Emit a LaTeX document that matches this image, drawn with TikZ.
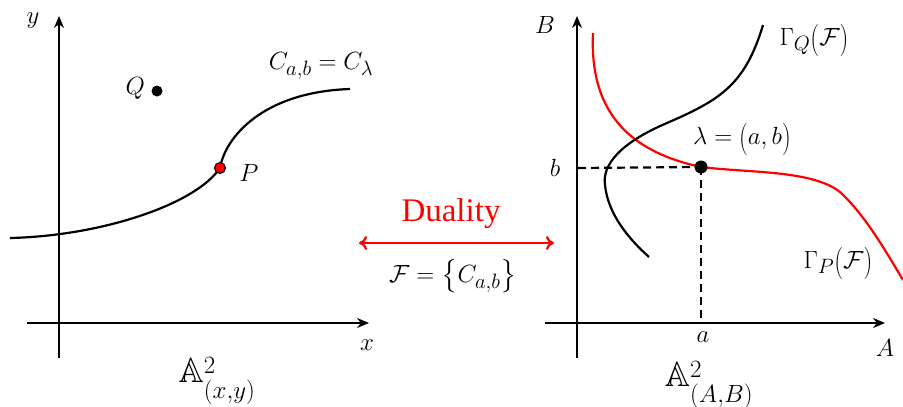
\documentclass[tikz,border=0pt]{standalone}
\usepackage{amsmath,amssymb,graphicx}
\usepackage{fontspec}
\setmainfont{Liberation Serif}
\usetikzlibrary{arrows.meta}
\newcommand\mylp{\mathopen{\raisebox{-0.1em}{\scalebox{1.0}[1.3]{$($}}}}
\newcommand\myrp{\mathclose{\raisebox{-0.1em}{\scalebox{1.0}[1.3]{$)$}}}}
\tikzset{
  axis/.style={line width=2.6pt,-{Stealth[length=12pt,width=10pt]}},
  curveblack/.style={line width=2.2pt,black},
  curvered/.style={line width=2.2pt,red},
  lbl/.style={font=\fontsize{28}{31}\selectfont,inner sep=0pt},
  biglbl/.style={font=\fontsize{35}{38}\selectfont,inner sep=0pt},
  dashln/.style={line width=2.2pt,dash pattern=on 8pt off 5pt},
}
\begin{document}
\begin{tikzpicture}[x=1pt,y=-1pt]
\useasboundingbox (0,0) rectangle (903,407);
% ---------- left panel ----------
\coordinate (yb) at (59,358); \coordinate (yt) at (59,16);
\coordinate (xl) at (27,323); \coordinate (xr) at (369,323);
\draw[axis] (yb) -- (yt);
\draw[axis] (xl) -- (xr);
\node[lbl] (ylab) at (33,21) {$y$};
\node[lbl] (xlab) at (367,345) {$x$};
\coordinate (c0) at (10,238);
\coordinate (c2) at (350,89);
\coordinate (Pc) at (220,168);
\draw[curveblack] (c0) .. controls (100,236) and (195,205) .. (Pc)
  .. controls (225,138) and (262,92) .. (c2);
\node[circle,fill=red,draw=black,line width=1pt,inner sep=0pt,minimum size=11pt] (P) at (Pc) {};
\node[circle,fill=black,inner sep=0pt,minimum size=11pt] (Q) at (157,91) {};
\node[lbl,anchor=east] (Qlab) at (145,88) {$Q$};
\node[lbl] (Plab) at (249,173) {$P$};
\node[lbl] (Clab) at (321,66) {$C_{a,b}=C_\lambda$};
\node[biglbl] (A1) at (217,381) {$\mathbb{A}^2_{(x,y)}$};
% ---------- middle ----------
\node[inner sep=0pt,text=red,font=\fontsize{33}{36}\selectfont] (dual) at (451,214) {Duality};
\coordinate (al) at (359,243); \coordinate (ar) at (554,243);
\draw[red,line width=2.2pt,{To[length=8pt,width=14pt]}-{To[length=8pt,width=14pt]}] (al) -- (ar);
\node[lbl] (fam) at (453,276) {$\mathcal{F}=\bigl\{C_{a,b}\bigr\}$};
% ---------- right panel ----------
\coordinate (Bb) at (577,358); \coordinate (Bt) at (577,16);
\coordinate (Al) at (545,323); \coordinate (Ar) at (885,323);
\draw[axis] (Bb) -- (Bt);
\draw[axis] (Al) -- (Ar);
\node[lbl] (Blab) at (545,25) {$B$};
\node[lbl] (Alab) at (885,348) {$A$};
\coordinate (lamc) at (701,167);
\draw[curvered] (593,33) .. controls (589,118) and (636,153) .. (lamc)
  .. controls (750,173) and (812,170) .. (840,192)
  .. controls (865,215) and (885,250) .. (903,280);
\draw[curveblack] (763,25) .. controls (745,85) and (720,100) .. (667,123)
  .. controls (620,143) and (602,165) .. (605,185)
  .. controls (608,215) and (630,240) .. (649,257);
\coordinate (bax) at (578,168);
\coordinate (aax) at (701,323);
\draw[dashln] (bax) -- (lamc);
\draw[dashln] (lamc) -- (aax);
\node[circle,fill=black,inner sep=0pt,minimum size=13pt] (lam) at (lamc) {};
\node[lbl] (blab) at (555,168) {$b$};
\node[lbl] (alab) at (703,337) {$a$};
\node[lbl] (lamlab) at (742,139) {$\lambda=\mylp a,b\myrp$};
\node[lbl] (GQ) at (814,40) {$\Gamma_Q\mylp\mathcal{F}\myrp$};
\node[lbl] (GP) at (838,263) {$\Gamma_P\mylp\mathcal{F}\myrp$};
\node[biglbl] (A2) at (709,385) {$\mathbb{A}^2_{(A,B)}$};
\end{tikzpicture}
\end{document}
